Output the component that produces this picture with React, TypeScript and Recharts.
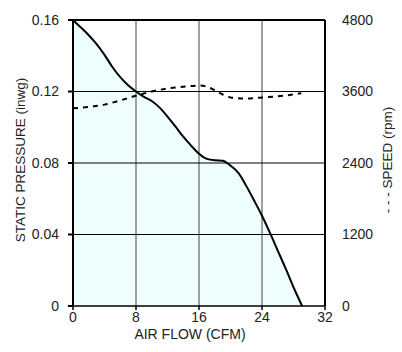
import React from 'react';
import { ComposedChart, Area, Line, XAxis, YAxis, ReferenceLine } from 'recharts';

// air flow (CFM) vs static pressure (inwg)
const flowPts = [0, 1, 2, 3, 4, 5, 6, 7, 8, 9, 10, 11, 12, 13, 14, 15, 16, 17, 18, 19, 20, 21, 22, 23, 24, 25, 26, 27, 28, 29.1];
const pressureVals = [0.16, 0.1558, 0.1515, 0.1465, 0.1405, 0.1337, 0.128, 0.1235, 0.12, 0.117, 0.1147, 0.111, 0.106, 0.1005, 0.0947, 0.0897, 0.0852, 0.0823, 0.0815, 0.0813, 0.0785, 0.0745, 0.0672, 0.059, 0.0505, 0.041, 0.031, 0.021, 0.0105, 0];

// air flow vs fan speed (rpm)
const speedFlow = [0, 2, 4, 6, 8, 10, 12, 14, 16, 17, 18, 19, 20, 22, 24, 26, 28, 29];
const speedVals = [3320, 3340, 3380, 3450, 3530, 3600, 3650, 3680, 3700, 3680, 3620, 3550, 3500, 3480, 3500, 3520, 3550, 3570];

const flowTicks = [0, 8, 16, 24, 32];
const pressureTicks = [0, 0.04, 0.08, 0.12, 0.16];
const speedTicks = [0, 1200, 2400, 3600, 4800];

const pressureData = flowPts.map((f, i) => ({ flow: f, pressure: pressureVals[i] }));
const speedData = speedFlow.map((f, i) => ({ flow: f, speed: speedVals[i] }));

const font = 'Liberation Sans, Arial, sans-serif';
const tickStyle = { fill: '#222', fontSize: 14, fontFamily: font };

export default function App() {
  return (
    <div style={{ position: 'fixed', left: 0, top: 0, width: 402, height: 352, background: '#fff' }}>
      <ComposedChart width={402} height={352} margin={{ top: 20, right: 0, left: 0, bottom: 0 }}>
        <XAxis
          dataKey="flow"
          type="number"
          domain={[0, 32]}
          ticks={flowTicks}
          allowDataOverflow
          height={46}
          tick={tickStyle}
          tickSize={4}
          tickMargin={2}
          stroke="#000"
          strokeWidth={1.5}
          label={{
            content: () => (
              <text x={190} y={334} textAnchor="middle" dominantBaseline="central" fill="#222" fontSize={14} fontFamily={font}>
                AIR FLOW (CFM)
              </text>
            ),
          }}
        />
        <YAxis
          yAxisId="p"
          domain={[0, 0.16]}
          ticks={pressureTicks}
          tickFormatter={(v) => (v === 0 ? '0' : v.toFixed(2))}
          width={73}
          tick={tickStyle}
          tickSize={5}
          tickMargin={9}
          stroke="#000"
          strokeWidth={2}
          label={{
            content: () => (
              <text x={20} y={160} transform="rotate(-90 20 160)" textAnchor="middle" dominantBaseline="central" fill="#222" fontSize={13.5} fontFamily={font}>
                STATIC PRESSURE (inwg)
              </text>
            ),
          }}
        />
        <YAxis
          yAxisId="s"
          orientation="right"
          domain={[0, 4800]}
          ticks={speedTicks}
          width={77}
          tick={{ ...tickStyle, textAnchor: 'start' }}
          tickLine={false}
          tickMargin={11}
          stroke="#000"
          strokeWidth={2}
          label={{
            content: () => (
              <text x={387} y={160} transform="rotate(-90 387 160)" textAnchor="middle" dominantBaseline="central" fill="#222" fontSize={13.5} fontFamily={font}>
                - - - SPEED (rpm)
              </text>
            ),
          }}
        />
        <Area
          yAxisId="p"
          data={pressureData}
          dataKey="pressure"
          type="monotone"
          stroke="none"
          fill="#eefefe"
          fillOpacity={1}
          isAnimationActive={false}
        />
        {flowTicks.slice(1, 4).map((f) => (
          <ReferenceLine key={'v' + f} yAxisId="p" x={f} stroke="#808080" strokeWidth={1.5} />
        ))}
        {pressureTicks.slice(1, 4).map((p) => (
          <ReferenceLine key={'h' + p} yAxisId="p" y={p} stroke="#000" strokeWidth={1} />
        ))}
        <ReferenceLine yAxisId="p" y={0.16} stroke="#000" strokeWidth={2} />
        <Line
          yAxisId="p"
          data={pressureData}
          dataKey="pressure"
          type="monotone"
          stroke="#000"
          strokeWidth={2}
          dot={false}
          isAnimationActive={false}
        />
        <Line
          yAxisId="s"
          data={speedData}
          dataKey="speed"
          type="monotone"
          stroke="#000"
          strokeWidth={2}
          strokeDasharray="5 5"
          dot={false}
          isAnimationActive={false}
        />
      </ComposedChart>
    </div>
  );
}
